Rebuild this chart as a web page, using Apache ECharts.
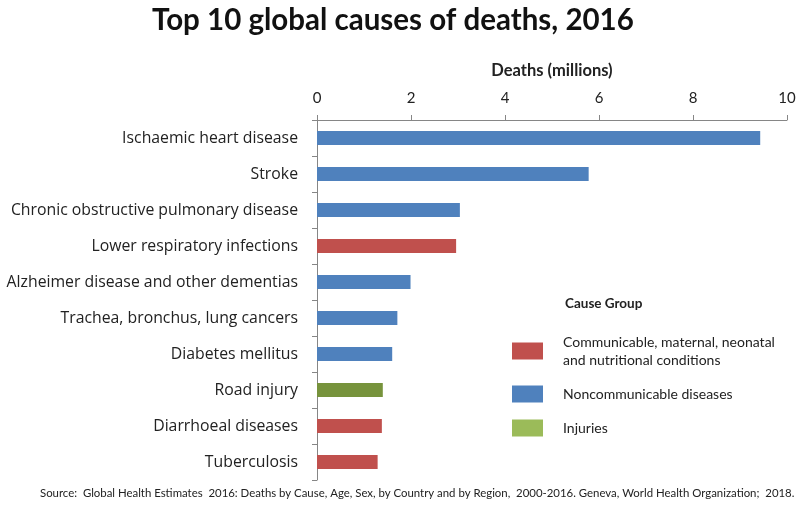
<!DOCTYPE html>
<html>
<head>
<meta charset="utf-8">
<script src="https://cdn.jsdelivr.net/npm/echarts@6/dist/echarts.min.js"></script>
<style>html,body{margin:0;padding:0;background:#fff}#c{width:800px;height:506px}</style>
</head>
<body>
<div id="c"></div>
<script>
const categories = ["Ischaemic heart disease","Stroke","Chronic obstructive pulmonary disease","Lower respiratory infections","Alzheimer disease and other dementias","Trachea, bronchus, lung cancers","Diabetes mellitus","Road injury","Diarrhoeal diseases","Tuberculosis"];
const deaths = [9.43, 5.78, 3.04, 2.96, 1.99, 1.71, 1.60, 1.40, 1.38, 1.29];
const groups = ["N","N","N","C","N","N","N","I","C","C"];
const groupNames = {C:"Communicable, maternal, neonatal and nutritional conditions", N:"Noncommunicable diseases", I:"Injuries"};
const groupOrder = ["C","N","I"];

const colors = {C:"#C0504D", N:"#4F81BD", I:"#9BBB59"};
const barColors = {C:"#C0504D", N:"#4F81BD", I:"#77933C"};
const FONT = "Lato";

const series = groupOrder.map(g => ({
  name: groupNames[g],
  type: 'bar',
  barWidth: 14,
  barGap: '-100%',
  itemStyle: {color: colors[g]},
  data: deaths.map((v,i) => groups[i]===g ? {value:v, itemStyle:{color:barColors[g]}} : '-')
}));

const chart = echarts.init(document.getElementById('c'));
chart.setOption({
  animation:false,
  textStyle:{fontFamily:FONT},
  title:{
    text:"Top 10 global causes of deaths, 2016",
    left:147, top:0,
    textStyle:{fontFamily:FONT, fontWeight:'bold', fontSize:29.5, color:'#111'}
  },
  graphic:[
    {type:'text', left:40, top:488, style:{text:"Source:  Global Health Estimates  2016: Deaths by Cause, Age, Sex, by Country and by Region,  2000-2016. Geneva, World Health Organization;  2018.", font:'11.4px '+FONT, fill:'#222'}},
    {type:'text', left:565, top:297, style:{text:"Cause Group", font:'bold 13.5px '+FONT, fill:'#222'}}
  ],
  legend:{
    orient:'vertical', left:507, top:328,
    itemWidth:31, itemHeight:17, itemGap:16,
    icon:'rect',
    data: groupOrder.map(g=>groupNames[g]),
    formatter: n => n.startsWith("Communicable") ? "Communicable, maternal, neonatal\nand nutritional conditions" : n,
    textStyle:{fontFamily:FONT, fontSize:14, color:'#222', lineHeight:18, padding:[0,0,0,15]}
  },
  grid:{left:317, right:13, top:120, bottom:26, containLabel:false},
  xAxis:{
    type:'value', position:'top', min:0, max:10, interval:2,
    name:"Deaths (millions)", nameLocation:'middle', nameGap:41,
    nameTextStyle:{fontFamily:FONT, fontWeight:'bold', fontSize:16.5, color:'#222'},
    axisLine:{show:true, lineStyle:{color:'#868686'}},
    axisTick:{show:true, length:5, lineStyle:{color:'#868686'}},
    axisLabel:{fontFamily:FONT, fontSize:15, color:'#222', margin:14},
    splitLine:{show:false}
  },
  yAxis:{
    type:'category', inverse:true, data:categories,
    axisLine:{show:true, lineStyle:{color:'#868686'}},
    axisTick:{show:true, length:5, lineStyle:{color:'#868686'}},
    axisLabel:{fontFamily:"Open Sans", fontSize:15.8, color:'#222', margin:19}
  },
  series: series
});
</script>
</body>
</html>
